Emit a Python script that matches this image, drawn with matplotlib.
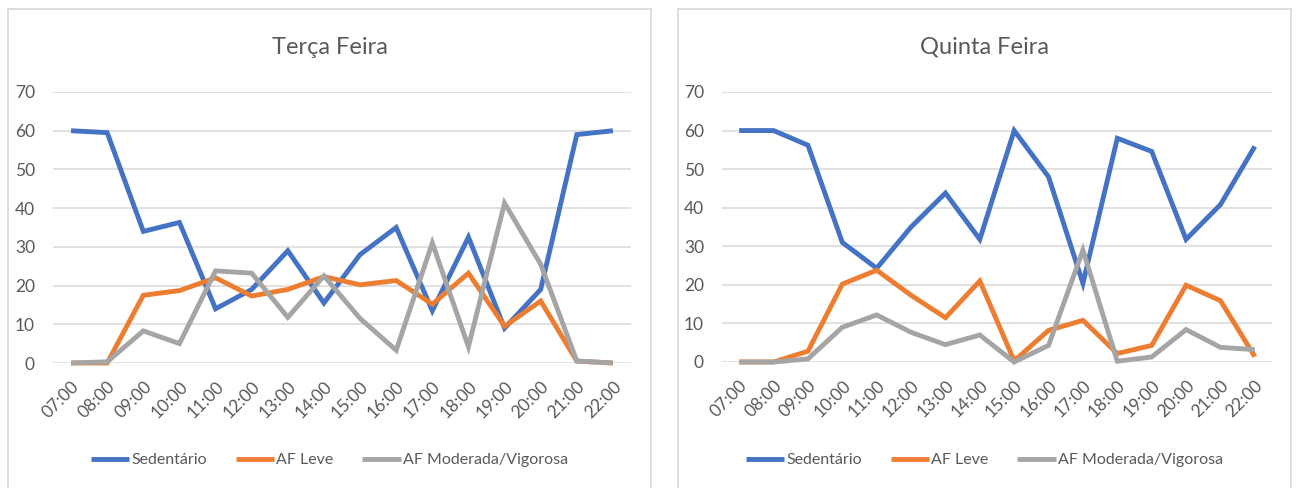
import matplotlib
matplotlib.use('Agg')
import matplotlib.pyplot as plt
from matplotlib.patches import Rectangle

plt.rcParams['font.family'] = ['Lato', 'DejaVu Sans']

hours = ['07:00', '08:00', '09:00', '10:00', '11:00', '12:00', '13:00', '14:00',
         '15:00', '16:00', '17:00', '18:00', '19:00', '20:00', '21:00', '22:00']

# Terça Feira
terca_sed = [60, 59.5, 34, 36.3, 14, 19, 29, 15.5, 28, 35, 13.5, 32.5, 9, 19, 59, 60]
terca_leve = [0, 0, 17.5, 18.7, 22, 17.3, 19, 22.3, 20.2, 21.3, 15.2, 23.2, 9.5, 16, 0.5, 0]
terca_mod = [0, 0.3, 8.3, 5, 23.8, 23.2, 11.8, 22.5, 11.5, 3.3, 31, 4.2, 41.3, 25.5, 0.5, 0]

# Quinta Feira
quinta_sed = [60, 60, 56.2, 31, 24.3, 35, 43.8, 31.8, 60, 48, 20.4, 58, 54.6, 31.8, 40.8, 55.9]
quinta_leve = [0, 0, 2.8, 20.2, 23.8, 17.3, 11.5, 21, 0.3, 8.2, 10.8, 2.2, 4.3, 19.9, 15.9, 1.4]
quinta_mod = [0, 0, 0.8, 9, 12.2, 7.7, 4.5, 7, 0, 4.3, 29, 0.2, 1.3, 8.4, 3.8, 3.2]

series_names = ['Sedentário', 'AF Leve', 'AF Moderada/Vigorosa']
colors = ['#4472C4', '#ED7D31', '#A5A5A5']
text_col = '#595959'

W, H = 1298, 488
fig = plt.figure(figsize=(W / 100, H / 100), dpi=100)


def px_axes(x0, x1, ytop, ybot):
    return fig.add_axes([x0 / W, 1 - ybot / H, (x1 - x0) / W, (ybot - ytop) / H])


def draw_panel(box, axbox, title, data):
    bx0, bx1 = box
    fig.patches.append(Rectangle((bx0 / W, -0.05), (bx1 - bx0) / W, 1.05 - 9 / H,
                                 transform=fig.transFigure, fill=False,
                                 edgecolor='#D9D9D9', linewidth=1.3))
    ax = px_axes(*axbox)
    x = list(range(len(hours)))
    handles = []
    for vals, c, name in zip(data, colors, series_names):
        h, = ax.plot(x, vals, color=c, linewidth=3.5, label=name, clip_on=False,
                     solid_joinstyle='miter', solid_capstyle='butt', zorder=3)
        handles.append(h)
    ax.set_xlim(-0.5, 15.5)
    ax.set_ylim(0, 70)
    ax.set_yticks(range(0, 80, 10))
    ax.set_xticks(x)
    ax.set_xticklabels(hours, rotation=45, ha='right', rotation_mode='anchor')
    ax.grid(axis='y', color='#D9D9D9', linewidth=1.1)
    ax.set_axisbelow(True)
    for s in ax.spines.values():
        s.set_visible(False)
    ax.tick_params(axis='both', length=0, labelsize=12.5, colors=text_col)
    ax.tick_params(axis='y', pad=13)
    ax.tick_params(axis='x', pad=11)
    cx = (bx0 + bx1) / 2 / W
    fig.text(cx, 1 - 47 / H, title, ha='center', va='center', fontsize=17, color=text_col)
    fig.legend(handles=handles, loc='center', bbox_to_anchor=(cx, 1 - 460 / H),
               ncol=3, frameon=False, fontsize=11.5, handlelength=2.4,
               handletextpad=0.15, columnspacing=1.8, labelcolor=text_col)
    return ax


draw_panel((8, 651), (53, 631, 92, 363), 'Terça Feira',
           [terca_sed, terca_leve, terca_mod])
draw_panel((678, 1291), (722, 1272, 92, 362), 'Quinta Feira',
           [quinta_sed, quinta_leve, quinta_mod])

fig.savefig('out.png', dpi=100, facecolor='white')
